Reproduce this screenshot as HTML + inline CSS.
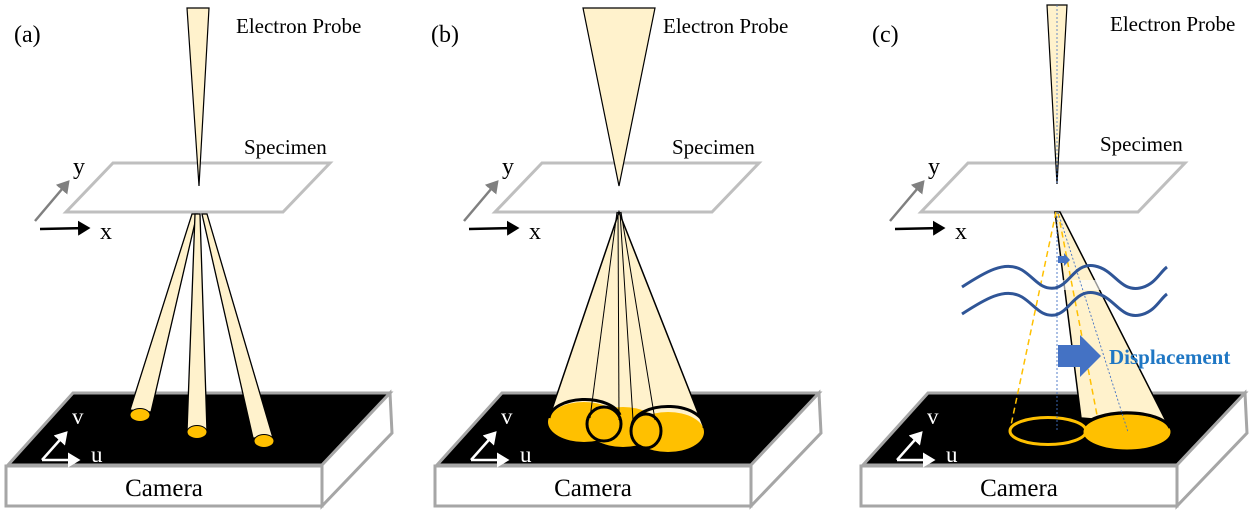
<!DOCTYPE html>
<html><head><meta charset="utf-8"><style>
html,body{margin:0;padding:0;background:#fff;}
svg{display:block;font-family:"Liberation Serif",serif;}
</style></head><body>
<svg width="1259" height="517" viewBox="0 0 1259 517" xmlns="http://www.w3.org/2000/svg">
<defs>
<marker id="ag" markerWidth="6" markerHeight="6" refX="4" refY="3" orient="auto" markerUnits="strokeWidth"><path d="M0,0 L5,3 L0,6 z" fill="#808080"/></marker>
<marker id="ab" markerWidth="6" markerHeight="6" refX="4" refY="3" orient="auto" markerUnits="strokeWidth"><path d="M0,0 L5,3 L0,6 z" fill="#000"/></marker>
<marker id="aw" markerWidth="6" markerHeight="6" refX="4" refY="3" orient="auto" markerUnits="strokeWidth"><path d="M0,0 L5,3 L0,6 z" fill="#fff"/></marker>
<g id="common">
  <polygon points="113,163 330,163 283,212 66,212" fill="#fff" stroke="#bfbfbf" stroke-width="3"/>
  <line x1="35" y1="221" x2="68" y2="182" stroke="#808080" stroke-width="2.5" marker-end="url(#ag)"/>
  <line x1="40" y1="229" x2="88" y2="228" stroke="#000" stroke-width="2.5" marker-end="url(#ab)"/>
  <text x="73" y="174" font-size="24">y</text>
  <text x="100" y="239" font-size="24">x</text>
  <polygon points="73,393 390,393 322,465 8,465" fill="#000" stroke="#a6a6a6" stroke-width="3"/>
  <polygon points="322,465 390,393 392,433 322,506" fill="#fff" stroke="#a6a6a6" stroke-width="3"/>
  <rect x="6" y="466" width="316" height="40" fill="#fff" stroke="#a6a6a6" stroke-width="3"/>
  <text x="164" y="496" font-size="25" text-anchor="middle">Camera</text>
  <line x1="42" y1="460" x2="78" y2="460" stroke="#fff" stroke-width="2.5" marker-end="url(#aw)"/>
  <line x1="42" y1="460" x2="66" y2="433" stroke="#fff" stroke-width="2.5" marker-end="url(#aw)"/>
  <text x="72" y="424" font-size="23" fill="#fff">v</text>
  <text x="91" y="462" font-size="23" fill="#fff">u</text>
</g>
</defs>

<!-- Panel A -->
<use href="#common"/>
<text x="14" y="42" font-size="24">(a)</text>
<text x="236" y="33" font-size="21">Electron Probe</text>
<text x="244" y="154" font-size="21">Specimen</text>
<polygon points="187,8 209,8 199,186" fill="#fff2cc" stroke="#000" stroke-width="1.2"/>
<polygon points="192,214 197,214 151,412 130,410" fill="#fff2cc" stroke="#000" stroke-width="1.3"/>
<ellipse cx="140" cy="415" rx="10" ry="6.5" fill="#ffc000" stroke="#000" stroke-width="1"/>
<polygon points="195,214 200,214 207,432 187,432" fill="#fff2cc" stroke="#000" stroke-width="1.3"/>
<ellipse cx="197" cy="432" rx="10" ry="6.5" fill="#ffc000" stroke="#000" stroke-width="1"/>
<polygon points="202,214 207,214 273,438 253,438" fill="#fff2cc" stroke="#000" stroke-width="1.3"/>
<ellipse cx="264" cy="441" rx="10" ry="6.5" fill="#ffc000" stroke="#000" stroke-width="1"/>

<!-- Panel B -->
<g transform="translate(429,0)"><use href="#common"/></g>
<text x="431" y="42" font-size="24">(b)</text>
<text x="663" y="33" font-size="21">Electron Probe</text>
<text x="672" y="154" font-size="21">Specimen</text>
<polygon points="583,8 655,8 619,186" fill="#fff2cc" stroke="#000" stroke-width="1.2"/>
<polygon points="619,212 549,418 704,428" fill="#fff2cc" stroke="#000" stroke-width="1.5"/>
<ellipse cx="584" cy="422" rx="36" ry="20" fill="#ffc000"/>
<ellipse cx="623" cy="427" rx="36" ry="20" fill="#ffc000"/>
<ellipse cx="668" cy="432" rx="36" ry="20" fill="#ffc000"/>
<g stroke="#000" stroke-width="1" fill="none">
<line x1="617" y1="212" x2="590" y2="418"/>
<line x1="618" y1="212" x2="619" y2="420"/>
<line x1="620" y1="212" x2="633" y2="420"/>
<line x1="621" y1="212" x2="655" y2="420"/>
</g>
<g stroke="#000" stroke-width="3" fill="none">
<path d="M549,418 A36,20 0 0 1 620,415"/>
<path d="M632,425 A36,20 0 0 1 704,428"/>
<ellipse cx="604" cy="424" rx="17" ry="17"/>
<ellipse cx="646" cy="431" rx="15" ry="17"/>
</g>

<!-- Panel C -->
<g transform="translate(855,0)"><use href="#common"/></g>
<text x="872" y="42" font-size="24">(c)</text>
<text x="1110" y="31" font-size="21">Electron Probe</text>
<text x="1100" y="151" font-size="21">Specimen</text>
<polygon points="1047,5 1067,5 1057,184" fill="#fff2cc" stroke="#000" stroke-width="1.2"/>
<line x1="1057" y1="5" x2="1057" y2="184" stroke="#4472c4" stroke-width="0.8" stroke-dasharray="2,2"/>
<polygon points="1055,212 1060,212 1168,425 1081,418" fill="#fff2cc" stroke="#000" stroke-width="1.5"/>
<rect x="1060" y="280" width="60" height="10" fill="#fff" opacity="0.6"/>
<ellipse cx="1127" cy="432" rx="44" ry="18" fill="#ffc000" stroke="#000" stroke-width="1"/>
<path d="M1083,428 A44,18 0 0 1 1170,428" fill="none" stroke="#000" stroke-width="3"/>
<ellipse cx="1048" cy="431" rx="38" ry="13.5" fill="none" stroke="#ffc000" stroke-width="3"/>
<g stroke="#ffc000" stroke-width="1.5" stroke-dasharray="6,4" fill="none">
<line x1="1056" y1="212" x2="1010" y2="430"/>
<line x1="1058" y1="212" x2="1097" y2="415"/>
</g>
<g stroke="#4472c4" stroke-width="0.9" stroke-dasharray="2,2" fill="none">
<line x1="1057" y1="212" x2="1057" y2="432"/>
<line x1="1058" y1="212" x2="1128" y2="432"/>
</g>
<g stroke="#2f5597" stroke-width="3" fill="none">
<path d="M962,287 C985,272 1005,260 1022,270 C1035,278 1040,290 1055,288 C1070,285 1075,262 1095,266 C1115,270 1120,292 1140,288 C1155,285 1160,272 1167,267"/>
<path d="M962,314 C985,299 1005,287 1022,297 C1035,305 1040,317 1055,315 C1070,312 1075,289 1095,293 C1115,297 1120,319 1140,315 C1155,312 1160,299 1167,294"/>
</g>
<polygon points="1058,256 1064,256 1064,253 1070,260 1064,266 1064,263 1058,263" fill="#4472c4"/>
<polygon points="1058,345 1080,345 1080,335 1101,356 1080,377 1080,367 1058,367" fill="#4472c4"/>
<text x="1109" y="364" font-size="21" font-weight="bold" fill="#1f77c4">Displacement</text>
</svg>
</body></html>
